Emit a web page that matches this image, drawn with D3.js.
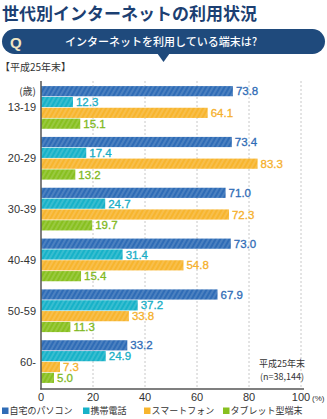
<!DOCTYPE html>
<html>
<head>
<meta charset="utf-8">
<script src="https://cdn.jsdelivr.net/npm/d3@7"></script>
<style>
  body { margin: 0; background: #fff; }
  svg { display: block; font-family: "Noto Sans CJK JP", "Noto Sans", sans-serif; }
  .num { font-family: "Liberation Sans", Arial, sans-serif; }
</style>
</head>
<body>
<svg id="chart" width="327" height="419"></svg>
<script>
var ages = ['13-19', '20-29', '30-39', '40-49', '50-59', '60-'];
var seriesNames = ['自宅のパソコン', '携帯電話', 'スマートフォン', 'タブレット型端末'];
var pcValues = [73.8, 73.4, 71.0, 73.0, 67.9, 33.2];
var mobileValues = [12.3, 17.4, 24.7, 31.4, 37.2, 24.9];
var smartphoneValues = [64.1, 83.3, 72.3, 54.8, 33.8, 7.3];
var tabletValues = [15.1, 13.2, 19.7, 15.4, 11.3, 5.0];
var xTicks = [0, 20, 40, 60, 80, 100];

var colors = ['#2f6cb6', '#17b2c8', '#f7b52e', '#88c020'];
var textColors = ['#2f6cb6', '#17aec6', '#f5b02c', '#80b81c'];
var allValues = [pcValues, mobileValues, smartphoneValues, tabletValues];

var svg = d3.select('#chart');

// hatch patterns
var defs = svg.append('defs');
colors.forEach(function(c, i) {
    var p = defs.append('pattern')
        .attr('id', 'hatch' + i)
        .attr('patternUnits', 'userSpaceOnUse')
        .attr('width', 4).attr('height', 4)
        .attr('patternTransform', 'rotate(30)');
    p.append('rect').attr('width', 4).attr('height', 4).attr('fill', c);
    p.append('line').attr('x1', 1).attr('y1', 0).attr('x2', 1).attr('y2', 4)
        .attr('stroke', '#fff').attr('stroke-opacity', 0.28).attr('stroke-width', 1);
});

// title
svg.append('text')
    .attr('x', 2).attr('y', 20)
    .attr('font-size', 17).attr('font-weight', 'bold')
    .attr('fill', '#1c3f72')
    .text('世代別インターネットの利用状況');

// question banner
svg.append('rect')
    .attr('x', 2).attr('y', 29).attr('width', 323).attr('height', 25)
    .attr('rx', 12.5).attr('fill', '#1f4a7c');
svg.append('path')
    .attr('d', 'M157,53 L170,53 L163.5,62 Z')
    .attr('fill', '#1f4a7c');
svg.append('text')
    .attr('x', 10).attr('y', 47.5)
    .attr('font-size', 15).attr('font-weight', 'bold')
    .attr('fill', '#efe6c4').attr('class', 'num')
    .text('Q');
svg.append('text')
    .attr('x', 65).attr('y', 46)
    .attr('font-size', 11).attr('font-weight', 500).attr('fill', '#fff')
    .text('インターネットを利用している端末は?');

svg.append('text')
    .attr('x', 0).attr('y', 71)
    .attr('font-size', 10).attr('fill', '#333')
    .text('【平成25年末】');

// scales
var x = d3.scaleLinear().domain([0, 100]).range([41, 301]);
var y = d3.scaleBand().domain(ages).range([81, 388]).paddingInner(0.16).paddingOuter(0.1);
var yInner = d3.scaleBand().domain(d3.range(4)).range([0, y.bandwidth()]).paddingInner(0.06);

// grid
svg.append('g')
    .selectAll('line')
    .data(xTicks.slice(1))
    .join('line')
    .attr('x1', function(d) { return x(d); })
    .attr('x2', function(d) { return x(d); })
    .attr('y1', 81).attr('y2', 389)
    .attr('stroke', '#c8c8c8').attr('stroke-width', 1)
    .attr('stroke-dasharray', '2,2');

// bars
ages.forEach(function(age, gi) {
    var g = svg.append('g').attr('transform', 'translate(0,' + y(age) + ')');
    allValues.forEach(function(vals, si) {
        var v = vals[gi];
        g.append('rect')
            .attr('x', x(0)).attr('y', yInner(si))
            .attr('width', x(v) - x(0)).attr('height', yInner.bandwidth())
            .attr('fill', 'url(#hatch' + si + ')');
        g.append('text')
            .attr('class', 'num')
            .attr('x', x(v) + 3).attr('y', yInner(si) + yInner.bandwidth() / 2)
            .attr('dy', '0.36em')
            .attr('font-size', 11.5)
            .attr('fill', textColors[si])
            .attr('stroke', textColors[si]).attr('stroke-width', 0.3)
            .text(v.toFixed(1));
    });
});

// y labels
svg.append('g')
    .selectAll('text')
    .data(ages)
    .join('text')
    .attr('class', 'num')
    .attr('x', 36)
    .attr('y', function(d) { return y(d) + y.bandwidth() / 2; })
    .attr('dy', '0.36em')
    .attr('text-anchor', 'end')
    .attr('font-size', 11).attr('fill', '#333')
    .text(function(d) { return d; });
svg.append('text')
    .attr('x', 36).attr('y', 95)
    .attr('text-anchor', 'end')
    .attr('font-size', 10).attr('fill', '#333')
    .text('(歳)');

// axes lines
svg.append('line')
    .attr('x1', x(0)).attr('x2', x(0)).attr('y1', 81).attr('y2', 389.5)
    .attr('stroke', '#555').attr('stroke-width', 1.5);
svg.append('line')
    .attr('x1', x(0) - 0.75).attr('x2', 304).attr('y1', 389).attr('y2', 389)
    .attr('stroke', '#555').attr('stroke-width', 1.5);

// x tick labels
svg.append('g')
    .selectAll('text')
    .data(xTicks)
    .join('text')
    .attr('class', 'num')
    .attr('x', function(d) { return x(d); })
    .attr('y', 401)
    .attr('text-anchor', 'middle')
    .attr('font-size', 11).attr('fill', '#333')
    .text(function(d) { return d; });
svg.append('text')
    .attr('class', 'num')
    .attr('x', 312).attr('y', 401)
    .attr('font-size', 8).attr('fill', '#333')
    .text('(%)');

// sample note
svg.append('text')
    .attr('x', 282).attr('y', 367)
    .attr('text-anchor', 'middle')
    .attr('font-size', 9).attr('fill', '#333')
    .text('平成25年末');
svg.append('text')
    .attr('x', 282).attr('y', 380)
    .attr('text-anchor', 'middle')
    .attr('font-size', 9).attr('fill', '#333')
    .text('(n=38,144)');

// legend
var legendX = [2, 83, 144, 223];
var legend = svg.append('g')
    .selectAll('g')
    .data(seriesNames)
    .join('g')
    .attr('transform', function(d, i) { return 'translate(' + legendX[i] + ',411)'; });
legend.append('rect')
    .attr('x', 0).attr('y', -3.5).attr('width', 6.5).attr('height', 6.5)
    .attr('fill', function(d, i) { return colors[i]; });
legend.append('text')
    .attr('x', 7.5).attr('y', 0)
    .attr('dy', '0.36em')
    .attr('font-size', 9).attr('fill', '#333')
    .text(function(d) { return d; });
</script>
</body>
</html>
